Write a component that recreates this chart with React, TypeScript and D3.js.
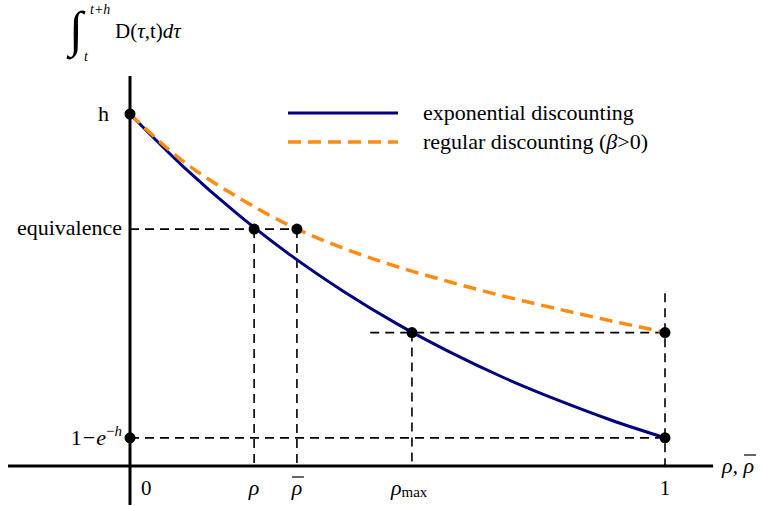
import React from "react";
import * as d3 from "d3";

const W = 762;
const H = 506;
const SERIF = "Liberation Serif, Times New Roman, Times, serif";

// rho on the horizontal axis, value of the integral on the vertical one (h scaled to 1)
const rhoGrid = [0, 0.1, 0.2, 0.3, 0.4, 0.5, 0.6, 0.7, 0.8, 0.9, 1];
const exponentialValues = [1.0, 0.85, 0.717, 0.599, 0.495, 0.403, 0.322, 0.25, 0.187, 0.13, 0.08];
const regularValues = [1.0, 0.865, 0.765, 0.682, 0.618, 0.566, 0.522, 0.482, 0.446, 0.412, 0.38];

// marked positions
const xMarkNames = ["zero", "rho", "rhoBar", "rhoMax", "one"];
const xMarkValues = [0, 0.232, 0.312, 0.527, 1];
const yLevelNames = ["h", "equivalence", "rhoMaxLevel", "floor"];
const yLevelValues = [1, 0.673, 0.379, 0.08];

const legendLabels = ["exponential discounting", "regular discounting"];

const BLUE = "#000080";
const ORANGE = "#ff8c10";

export default function App() {
  const xv = (n: string) => xMarkValues[xMarkNames.indexOf(n)];
  const yv = (n: string) => yLevelValues[yLevelNames.indexOf(n)];

  const x = d3.scaleLinear().domain([0, 1]).range([130, 665]);
  const y = d3.scaleLinear().domain([0, 1]).range([466, 114]);

  const line = d3
    .line<number>()
    .x((_, i) => x(rhoGrid[i]))
    .y((d) => y(d))
    .curve(d3.curveMonotoneX);

  // dashed guides: [x1, y1, x2, y2] in data units
  const guides: [number, number, number, number][] = [
    [0, yv("equivalence"), xv("rhoBar"), yv("equivalence")],
    [0.449, yv("rhoMaxLevel"), xv("one"), yv("rhoMaxLevel")],
    [0, yv("floor"), xv("one"), yv("floor")],
    [xv("rho"), yv("equivalence"), xv("rho"), 0],
    [xv("rhoBar"), yv("equivalence"), xv("rhoBar"), 0],
    [xv("rhoMax"), yv("rhoMaxLevel"), xv("rhoMax"), 0],
    [xv("one"), 0.491, xv("one"), 0],
  ];

  const dots: [number, number][] = [
    [0, yv("h")],
    [xv("rho"), yv("equivalence")],
    [xv("rhoBar"), yv("equivalence")],
    [xv("rhoMax"), yv("rhoMaxLevel")],
    [xv("one"), yv("rhoMaxLevel")],
    [0, yv("floor")],
    [xv("one"), yv("floor")],
  ];

  const tickY = 495;
  const it = { fontStyle: "italic" as const };

  return (
    <svg
      width={W}
      height={H}
      style={{ position: "absolute", left: 0, top: 0, background: "#fff", fontFamily: SERIF }}
    >
      {/* guides */}
      <g stroke="#000" strokeWidth={1.6} strokeDasharray="9,6" fill="none">
        {guides.map((g, i) => (
          <line key={i} x1={x(g[0])} y1={y(g[1])} x2={x(g[2])} y2={y(g[3])} />
        ))}
      </g>

      {/* axes */}
      <g stroke="#000" strokeWidth={3}>
        <line x1={x(-0.228)} x2={x(1.09)} y1={y(0)} y2={y(0)} />
        <line x1={x(0)} x2={x(0)} y1={y(1.108)} y2={y(-0.111)} />
      </g>

      {/* curves */}
      <path d={line(exponentialValues) ?? ""} fill="none" stroke={BLUE} strokeWidth={3} />
      <path
        d={line(regularValues) ?? ""}
        fill="none"
        stroke={ORANGE}
        strokeWidth={3.5}
        strokeDasharray="13,7"
      />

      {/* points */}
      <g fill="#000">
        {dots.map((d, i) => (
          <circle key={i} cx={x(d[0])} cy={y(d[1])} r={5.5} />
        ))}
      </g>

      {/* legend */}
      <line x1={288} x2={398} y1={113} y2={113} stroke={BLUE} strokeWidth={3} />
      <line x1={288} x2={398} y1={142} y2={142} stroke={ORANGE} strokeWidth={3.5} strokeDasharray="13,7" />
      <text x={423} y={120} fontSize={22}>{legendLabels[0]}</text>
      <text x={423} y={149} fontSize={22}>
        {legendLabels[1]} (<tspan style={it}>β</tspan>&gt;0)
      </text>

      {/* y labels */}
      <text x={109} y={y(yv("h")) + 7} fontSize={22} textAnchor="end">h</text>
      <text x={122} y={y(yv("equivalence")) + 6} fontSize={22} textAnchor="end">equivalence</text>
      <text x={122} y={y(yv("floor")) + 7} fontSize={22} textAnchor="end">
        1<tspan dx={1}>−</tspan>
        <tspan dx={1} style={it}>e</tspan>
        <tspan fontSize={15} dy={-9}>−</tspan>
        <tspan fontSize={15} style={it}>h</tspan>
      </text>

      {/* top label */}
      <text x={69} y={46} fontSize={50}>∫</text>
      <text x={90} y={14} fontSize={14} style={it}>t+h</text>
      <text x={84} y={61} fontSize={14} style={it}>t</text>
      <text x={115} y={38} fontSize={21}>
        D(<tspan style={it}>τ</tspan>,t)<tspan style={it}>dτ</tspan>
      </text>

      {/* x labels */}
      <text x={x(0) + 11} y={tickY} fontSize={21}>0</text>
      <text x={x(xv("rho"))} y={tickY} fontSize={22} style={it} textAnchor="middle">ρ</text>
      <text x={x(xv("rhoBar"))} y={tickY} fontSize={22} style={it} textAnchor="middle">ρ</text>
      <line x1={x(xv("rhoBar")) - 5} x2={x(xv("rhoBar")) + 7} y1={tickY - 18} y2={tickY - 18} stroke="#000" strokeWidth={1.2} />
      <text x={x(xv("rhoMax")) - 21} y={tickY} fontSize={22}>
        <tspan style={it}>ρ</tspan>
        <tspan fontSize={15} dy={2}>max</tspan>
      </text>
      <text x={x(1)} y={tickY} fontSize={21} textAnchor="middle">1</text>
      <text x={722} y={473} fontSize={22} style={it}>ρ, ρ</text>
      <line x1={744} x2={756} y1={455} y2={455} stroke="#000" strokeWidth={1.2} />
    </svg>
  );
}
